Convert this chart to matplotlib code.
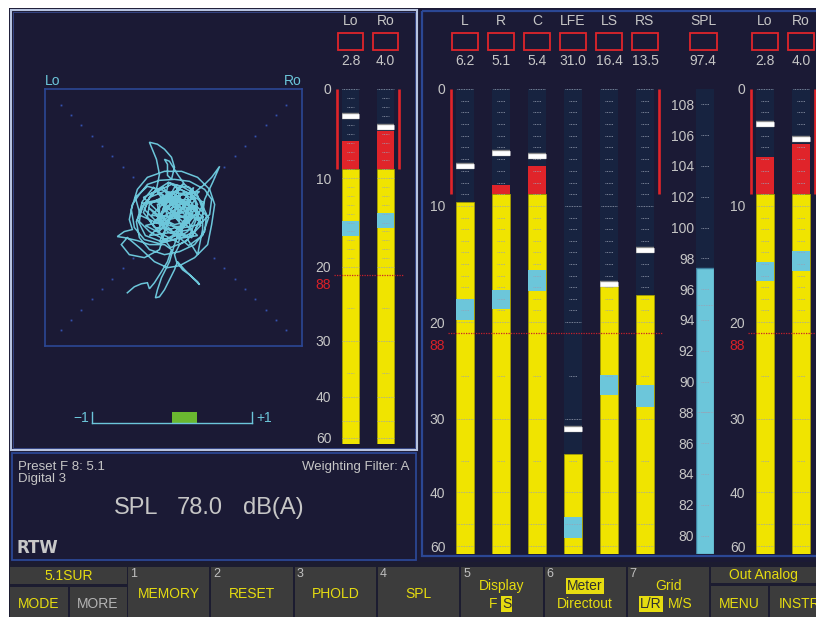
import numpy as np
import matplotlib
matplotlib.use('Agg')
import matplotlib.pyplot as plt
from matplotlib.patches import Rectangle
from matplotlib.transforms import blended_transform_factory as blend

plt.rcParams['font.family'] = ['Liberation Sans', 'DejaVu Sans']

# ---------------- data ----------------
main_channels = ['L', 'R', 'C', 'LFE', 'LS', 'RS']
main_peak = [6.2, 5.1, 5.4, 31.0, 16.4, 13.5]
main_level = [9.7, 8.2, 6.6, 34.1, 16.9, 17.7]
main_hold = [6.6, 5.5, 5.7, 31.2, 16.7, 13.8]
main_cyan_top = [18.0, 17.2, 15.5, 47.8, 24.9, 26.1]
main_cyan_bot = [19.8, 18.9, 17.3, 56.2, 27.3, 28.6]

stereo_channels = ['Lo', 'Ro']
stereo_peak = [2.8, 4.0]
stereo_level = [5.8, 4.7]
stereo_hold = [3.0, 4.3]
stereo_cyan_top = [14.8, 13.9]
stereo_cyan_bot = [16.5, 15.6]

spl_label = 'SPL'
spl_peak = 97.4
spl_value = 97.4
spl_ticks = list(range(80, 110, 2))
spl_display = 78.0

db_ticks = [0, 10, 20, 30, 40, 60]
db_major = [0, 10, 20, 30, 40, 50, 60]
db_minor = [1, 2, 3, 4, 5, 6, 7, 8, 9, 11, 12, 13, 14, 15, 16, 17, 18, 19, 25, 35]
red_zone_db = 9
ref_db = 21.0
ref_label = '88'
ref_label_db = 22.2

correlation = 0.31

# goniometer trace (side, mid) in display units, full scale +-128
gonio_side = [-46, -39, -32, -26, -24, -19, -12, -6, -2, -9, -24, -36, -49, -56, -49, -41, -44, -41, -34, -26,
              -14, 1, 16, 31, 38, 36, 26, 11, -4, -19, -29, -24, -9, 8, 21, 24, 16, 1, -14, -16,
              -4, 11, 16, 6, -9, -24, -34, -32, -19, -2, 16, 26, 33, 31, 21, 6, -9, -24, -34, -37,
              -29, -17, -14, -17, -22, -24, -16, -9, -2, 1, -2, -6, -6, -9, -4, 4, 11, 21, 31, 38,
              46, 39, 31, 29, 29, 24, 19, 14, 6, 1, 3, 9, 16, 24, 26, 19, 11, 4, 1, -4,
              -9, -14, -18, -16, -12, -4, 1, 6, 16, 24, 19, 6, -6, -14, -14, -6, 8, 21, 26, 21,
              11, 4, 6, -2, -9, 1, 14, 18, 11, -4, -19, -26, -24, -12, 2, -14, -29, -44, -52, -46,
              -34, -19, -6, 6, 21, 34, 38, 41, 36, 24, 8, -9, -26, -36, -42, -39, -29, -14, 1, 14,
              21, 16, 4, -9, -6, 6, -20, -31, -36, -28, -12, 3, 18, 30, 24, 10, -5, -22, -30, -18,
              -3, 12, 27, 20, 5, -10, -26, -38, -33, -15, 0, 15, 29, 35, 22, 7, -8,
              -30, -10, 5, -20, 10, 25, 0, -25, 15, 30, -5, -15, 20, 5, -28, 12, -8, 28, -18, 8,
              22, -12, 2, 18, -24, 14, -4, 26, -32, 6, -14, 24, -6, 10, -22, 30, 0, -16, 16, -2]
gonio_mid = [-75, -69, -66, -65, -71, -65, -54, -44, -32, -27, -27, -23, -20, -19, -14, -12, -2, 13, 23, 33,
             37, 38, 36, 28, 18, 3, -7, -10, -8, -2, 8, 20, 26, 24, 18, 6, -4, -7, 0, 13,
             18, 13, 3, -17, -22, -14, -4, 10, 25, 33, 30, 18, 3, -14, -27, -34, -37, -32, -20, -4,
             13, 28, 43, 58, 70, 75, 73, 68, 60, 50, 38, 42, 53, 58, 56, 43, 33, 25, 33, 40,
             51, 35, 18, 3, -12, -37, -29, -22, -27, -37, -44, -52, -57, -64, -67, -60, -52, -44, -52, -62,
             -72, -79, -80, -72, -60, -44, -27, -12, 0, 13, 23, 28, 23, 13, -2, -14, -20, -14, -2, 8,
             10, 3, -4, 3, 8, 15, 18, 8, -7, -12, -10, 0, 13, 20, 21, -32, -40, -37, -27, -20,
             -30, -44, -50, -48, -40, -27, -7, 13, 28, 40, 46, 46, 40, 28, 8, -10, -22, -26, -22, -14,
             -2, 13, 20, 13, 0, 6, 30, 16, -2, -18, -24, -16, -20, 5, 22, 30, 35, 24, 5, -10,
             -30, -24, -8, 10, 17, 27, 31, 20, 2, -6, -15, -28, -18, 0, 12, 4, -1,
             20, 30, 10, -5, 25, 5, -15, 10, -20, 15, 35, -15, 30, -25, -8, 2, 22, -5, 28, -8,
             20, 5, 32, -12, -18, 14, -2, 26, 14, 18, -24, -18, 10, 34, 2, 0, 24, 16, -4, -20]

# ---------------- style ----------------
W, H = 816, 617
BG = '#1b1a35'
COLBG = '#172340'
YELLOW = '#f0e400'
RED = '#e0242a'
CYAN = '#6cc6da'
TXT = '#c6c6c6'
BLUE = '#2b4794'
TICK = '#9aa2b4'
BTN = '#3c3c3c'
BTXT = '#e6dc10'
GREEN = '#6ab830'

KN_DB = [-50, 0, 10, 20, 25, 30, 35, 40, 50, 60, 64, 200]
KN_POS = [-1.258, 0, 0.2516, 0.5011, 0.6166, 0.709, 0.8007, 0.8673, 0.9361, 0.9828, 1.0, 3.34]
DB_BOTTOM = 64


def fwd(d):
    return np.interp(np.asarray(d, float), KN_DB, KN_POS)


def inv(p):
    return np.interp(np.asarray(p, float), KN_POS, KN_DB)


fig = plt.figure(figsize=(W / 100, H / 100), dpi=100)
fig.patch.set_facecolor('white')


def px_axes(x0, y0, x1, y1, z=1):
    a = fig.add_axes([x0 / W, 1 - y1 / H, (x1 - x0) / W, (y1 - y0) / H])
    a.set_zorder(z)
    return a


bg = px_axes(0, 0, W, H, 0)
bg.set_xlim(0, W)
bg.set_ylim(H, 0)
bg.axis('off')

bg.add_patch(Rectangle((9, 8), W, H, fc=BG, ec='none'))
# panels
bg.add_patch(Rectangle((10.5, 9.5), 406, 440, fc='none', ec='#b8c4e0', lw=1.5))
bg.add_patch(Rectangle((12.5, 11.5), 402, 436, fc='none', ec='#3a4c90', lw=0.6))
bg.add_patch(Rectangle((11.5, 452.5), 404, 107, fc='none', ec=BLUE, lw=1.3))
bg.add_patch(Rectangle((422, 11), 410, 545, fc='none', ec=BLUE, lw=1.6))

DOT = (0, (1.0, 1.0))


def meter_group(x0, y0, x1, y1, names, peak, level, hold, ctop, cbot):
    n = len(names)
    ax = px_axes(x0, y0, x1, y1, 3)
    ax.set_yscale('function', functions=(fwd, inv))
    ax.set_ylim(DB_BOTTOM, 0)
    ax.set_xlim(-0.5, n - 0.5)
    ax.patch.set_visible(False)
    for s in ax.spines.values():
        s.set_visible(False)
    ax.set_xticks([])
    ax.set_yticks(db_ticks)
    ax.set_yticklabels([str(t) for t in db_ticks])
    ax.yaxis.set_minor_locator(matplotlib.ticker.NullLocator())
    ax.tick_params(axis='y', length=0, pad=1.2, labelsize=10, labelcolor=TXT)
    x = np.arange(n)
    level = np.asarray(level, float)
    ax.bar(x, DB_BOTTOM, bottom=0, width=0.5, color=COLBG, zorder=1)
    ytop = np.maximum(level, red_zone_db)
    ax.bar(x, DB_BOTTOM - ytop, bottom=ytop, width=0.5, color=YELLOW,
           edgecolor='#a8a000', lw=0.5, zorder=2)
    m = level < red_zone_db
    if m.any():
        ax.bar(x[m], red_zone_db - level[m], bottom=level[m], width=0.5, color=RED, zorder=2)
    ax.bar(x, np.asarray(cbot) - np.asarray(ctop), bottom=ctop, width=0.5, color=CYAN, zorder=3)
    for i in range(n):
        ax.hlines(db_major, i - 0.23, i + 0.23, colors=TICK, lw=0.6,
                  linestyles=DOT, zorder=6, clip_on=False)
        ax.hlines(db_minor, i - 0.1, i + 0.1, colors=TICK, lw=0.6,
                  linestyles=DOT, zorder=6)
    ax.hlines(hold, x - 0.25, x + 0.25, colors='#8a8a8a', lw=4.6, zorder=7)
    ax.hlines(hold, x - 0.24, x + 0.24, colors='white', lw=3.4, zorder=8)
    ax.vlines([-0.4, n - 1 + 0.375], 0, red_zone_db, colors=RED, lw=1.9, zorder=5)
    ax.hlines(ref_db, -0.47, n - 0.5, colors='#c8202a', lw=0.9,
              linestyles=(0, (1, 1)), zorder=9, clip_on=False)
    ax.annotate(ref_label, xy=(0, ref_label_db), xycoords=('axes fraction', 'data'),
                xytext=(-1.2, 0), textcoords='offset points', ha='right', va='center',
                color='#d82028', fontsize=10)
    tr = blend(ax.transData, bg.transData)
    for i in range(n):
        bg.text(i, 21, names[i], transform=tr, ha='center', va='center', color=TXT, fontsize=10)
        bg.add_patch(Rectangle((i - 0.36, 33), 0.72, 17, transform=tr, fc='none', ec=RED, lw=1.3))
        bg.text(i, 61, f'{peak[i]:.1f}', transform=tr, ha='center', va='center', color=TXT, fontsize=10)
    return ax


meter_group(333, 89, 403, 444, stereo_channels, stereo_peak, stereo_level,
            stereo_hold, stereo_cyan_top, stereo_cyan_bot)
meter_group(447, 89, 663, 554, main_channels, main_peak, main_level,
            main_hold, main_cyan_top, main_cyan_bot)
meter_group(747, 89, 819, 554, stereo_channels, stereo_peak, stereo_level,
            stereo_hold, stereo_cyan_top, stereo_cyan_bot)

# SPL meter
sp = px_axes(696, 89, 714, 554, 3)
sp.set_ylim(78.8, 109.0)
sp.set_xlim(-0.5, 0.5)
sp.set_facecolor(COLBG)
for s in sp.spines.values():
    s.set_visible(False)
sp.set_xticks([])
sp.set_yticks(spl_ticks)
sp.set_yticklabels([str(t) for t in spl_ticks])
sp.tick_params(axis='y', length=0, pad=1.2, labelsize=10, labelcolor=TXT)
sp.bar(0, spl_value - 78.8, bottom=78.8, width=1.0, color=CYAN, edgecolor='#3f7f9f', lw=1.0, zorder=2)
sp.hlines(spl_ticks, -0.2, 0.2, colors=TICK, lw=0.6, linestyles=DOT, zorder=5)
sp.hlines([88, 95], -0.45, 0.45, colors=TICK, lw=0.6, linestyles=DOT, zorder=5)
trs = blend(sp.transData, bg.transData)
bg.text(-0.1, 21, spl_label, transform=trs, ha='center', va='center', color=TXT, fontsize=10)
bg.add_patch(Rectangle((-0.85, 33), 1.5, 17, transform=trs, fc='none', ec=RED, lw=1.3))
bg.text(-0.1, 61, f'{spl_peak:.1f}', transform=trs, ha='center', va='center', color=TXT, fontsize=10)

# goniometer
go = px_axes(45, 89, 302, 346, 3)
go.set_xlim(-128, 128)
go.set_ylim(-128, 128)
go.patch.set_visible(False)
go.set_xticks([])
go.set_yticks([])
for s in go.spines.values():
    s.set_color(BLUE)
    s.set_linewidth(1.2)
dd = np.linspace(40.5, 112.5, 8)
for sx in (-1, 1):
    for sy in (-1, 1):
        go.plot(sx * dd, sy * dd, ls='none', marker='s', ms=1.3, color='#3552b0', mec='none')
go.plot(gonio_side, gonio_mid, color=CYAN, lw=1.1, solid_joinstyle='miter')
bg.text(45, 88, 'Lo', ha='left', va='bottom', color=CYAN, fontsize=10)
bg.text(302, 88, 'Ro', ha='right', va='bottom', color=CYAN, fontsize=10)

# correlation meter
co = px_axes(92, 412, 252, 423, 3)
co.set_xlim(-1, 1)
co.set_ylim(0, 1)
co.patch.set_visible(False)
co.set_xticks([])
co.set_yticks([])
co.spines['top'].set_visible(False)
for k in ('left', 'right', 'bottom'):
    co.spines[k].set_color(CYAN)
    co.spines[k].set_linewidth(1.0)
co.barh(0.5, correlation, left=0, height=1.0, color=GREEN, zorder=2)
bg.text(89, 418, '\u22121', ha='right', va='center', color=CYAN, fontsize=10)
bg.text(256, 418, '+1', ha='left', va='center', color=CYAN, fontsize=10)

# info panel
bg.text(18, 467, 'Preset F 8: 5.1', ha='left', va='center', color=TXT, fontsize=9.5)
bg.text(18, 479, 'Digital 3', ha='left', va='center', color=TXT, fontsize=9.5)
bg.text(409, 467, 'Weighting Filter: A', ha='right', va='center', color=TXT, fontsize=9.5)
bg.text(114, 508, 'SPL', ha='left', va='center', color=TXT, fontsize=17)
bg.text(177, 508, f'{spl_display:.1f}', ha='left', va='center', color=TXT, fontsize=17)
bg.text(243, 508, 'dB(A)', ha='left', va='center', color=TXT, fontsize=17)
bg.text(17, 548, 'RTW', ha='left', va='center', color='#c8c8c8', fontsize=12,
        fontweight='heavy', family='DejaVu Sans')
bg.add_patch(Rectangle((32, 542), 3, 3, fc=RED, ec='none'))

# soft-key bar
bg.add_patch(Rectangle((9, 562), W, 60, fc='#1c1c30', ec='none'))
boxes = [(10, 567, 127, 584), (10, 587, 68, 617), (70, 587, 127, 617),
         (711, 567, 816, 583), (711, 586, 768, 617), (770, 586, 816, 617)]
for (a, b, c, d) in boxes:
    bg.add_patch(Rectangle((a, b), c - a, d - b, fc=BTN, ec='none'))
keys = ['MEMORY', 'RESET', 'PHOLD', 'SPL', None, None, None]
for k in range(7):
    xl = 128 + 83.3 * k
    bg.add_patch(Rectangle((xl, 567), 81.3, 50, fc=BTN, ec='none'))
    bg.text(xl + 2, 574, str(k + 1), ha='left', va='center', color='#c0c0c0', fontsize=9)
    if keys[k]:
        bg.text(xl + 41, 594.5, keys[k], ha='center', va='center', color=BTXT, fontsize=10)

hl = dict(boxstyle='square,pad=0.08', fc=BTXT, ec='none')
bg.text(68.5, 575.5, '5.1SUR', ha='center', va='center', color=BTXT, fontsize=10)
bg.text(39, 604, 'MODE', ha='center', va='center', color=BTXT, fontsize=10)
bg.text(98, 604, 'MORE', ha='center', va='center', color='#b4b4b4', fontsize=10)
bg.text(502, 586, 'Display', ha='center', va='center', color=BTXT, fontsize=10)
bg.text(497, 604, 'F', ha='right', va='center', color=BTXT, fontsize=10)
bg.text(502, 604, 'S', ha='left', va='center', color='#303030', fontsize=10, bbox=hl)
bg.text(585, 586, 'Meter', ha='center', va='center', color='#303030', fontsize=10, bbox=hl)
bg.text(585, 604, 'Directout', ha='center', va='center', color=BTXT, fontsize=10)
bg.text(669, 586, 'Grid', ha='center', va='center', color=BTXT, fontsize=10)
bg.text(651, 604, 'L/R', ha='center', va='center', color='#303030', fontsize=10, bbox=hl)
bg.text(680, 604, 'M/S', ha='center', va='center', color=BTXT, fontsize=10)
bg.text(763, 575.5, 'Out Analog', ha='center', va='center', color=BTXT, fontsize=10)
bg.text(739.5, 604, 'MENU', ha='center', va='center', color=BTXT, fontsize=10)
bg.text(779, 604, 'INSTR', ha='left', va='center', color=BTXT, fontsize=10)

fig.savefig('out.png', dpi=100, facecolor=fig.get_facecolor())
